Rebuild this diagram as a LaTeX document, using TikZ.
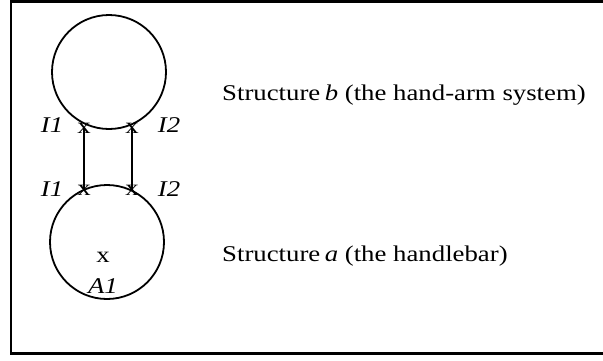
\documentclass[tikz,border=0pt]{standalone}
\usepackage{graphicx}
\usepackage{fontspec}
\setmainfont{Liberation Serif}
\newcommand{\wide}[1]{\scalebox{1.19}[1]{#1}}
\begin{document}
\begin{tikzpicture}[x=1pt, y=-1pt, font=\fontsize{22.5}{26}\selectfont]
\tikzset{
  ring/.style={draw, circle, line width=1.8pt, minimum size=114pt, inner sep=0pt},
  xmark/.style={inner sep=0pt},
  lbl/.style={font=\fontsize{22.5}{26}\selectfont\itshape, inner sep=0pt}
}
\useasboundingbox (0,0) rectangle (603,360);
\clip (0,0) rectangle (603,360);
\draw[line width=2.2pt] (11,1.5) rectangle (625,353.5);

\node[ring] (b) at (109,72) {};
\node[ring] (a) at (107,242) {};

\node[xmark] (b1) at (84,128) {\wide{x}};
\node[xmark] (b2) at (132,128) {\wide{x}};
\node[xmark] (a1) at (84,190) {\wide{x}};
\node[xmark] (a2) at (132,190) {\wide{x}};
\draw[line width=1.8pt] (b1.center) -- (a1.center);
\draw[line width=1.8pt] (b2.center) -- (a2.center);

\node[lbl] (lb1) at (52,125) {\wide{I1}};
\node[lbl] (lb2) at (169,125) {\wide{I2}};
\node[lbl] (la1) at (52,189) {\wide{I1}};
\node[lbl] (la2) at (169,189) {\wide{I2}};

\node[xmark] (c) at (103,257) {\wide{x}};
\node[lbl] (ca) at (103,286) {\wide{A1}};

\node[anchor=base west, inner sep=0pt] (tb) at (222,100) {\wide{Structure\,\textit{b} (the hand-arm system)}};
\node[anchor=base west, inner sep=0pt] (ta) at (222,261.5) {\wide{Structure\,\textit{a} (the handlebar)}};
\end{tikzpicture}
\end{document}
